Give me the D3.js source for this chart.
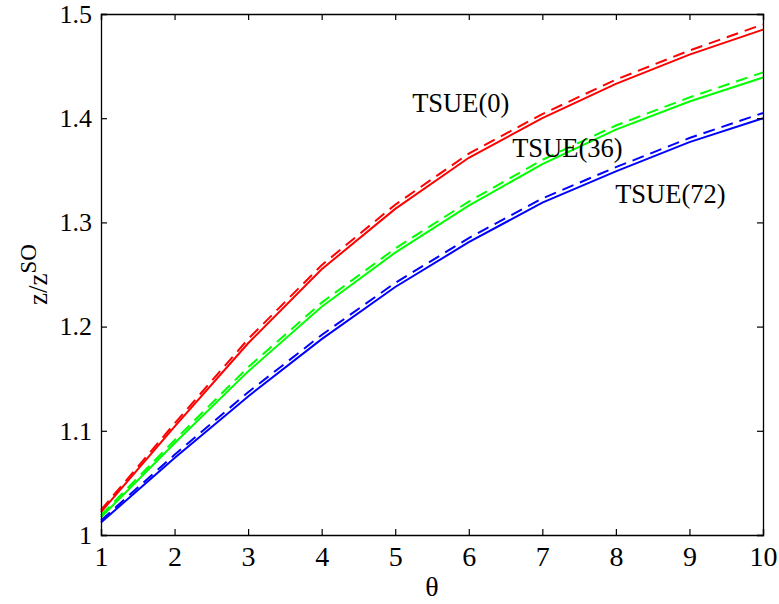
<!DOCTYPE html>
<html><head><meta charset="utf-8">
<script src="https://cdn.jsdelivr.net/npm/d3@7"></script>
<style>body{margin:0;background:#fff}svg{display:block}</style>
</head><body>
<svg id="chart" width="779" height="604"></svg>
<script>
const theta = [1,2,3,4,5,6,7,8,9,10];
const tsue0Solid  = [1.022,1.104,1.184,1.255,1.313,1.362,1.400,1.433,1.461,1.485];
const tsue0Dashed = [1.024,1.107,1.188,1.259,1.317,1.366,1.404,1.437,1.465,1.490];
const tsue36Solid  = [1.017,1.088,1.157,1.219,1.271,1.316,1.356,1.389,1.416,1.439];
const tsue36Dashed = [1.019,1.091,1.161,1.223,1.275,1.320,1.360,1.393,1.420,1.444];
const tsue72Solid  = [1.012,1.074,1.133,1.188,1.238,1.281,1.319,1.349,1.377,1.400];
const tsue72Dashed = [1.014,1.077,1.137,1.192,1.242,1.285,1.323,1.353,1.381,1.405];
const seriesLabels = ["TSUE(0)","TSUE(36)","TSUE(72)"];
const seriesColors = ["#ff0000","#00ff00","#0000ff"];
const xTicks = [1,2,3,4,5,6,7,8,9,10];
const yTicks = [1,1.1,1.2,1.3,1.4,1.5];
// label anchor positions in data units
const labelX = [5.23, 6.59, 7.99];
const labelY = [1.406, 1.363, 1.319];

const svg = d3.select("#chart");
const m = {left:101, top:14, right:16, bottom:69};
const W = 779 - m.left - m.right, H = 604 - m.top - m.bottom;
const g = svg.append("g").attr("transform",`translate(${m.left},${m.top})`);
const x = d3.scaleLinear().domain([1,10]).range([0,W]);
const y = d3.scaleLinear().domain([1,1.5]).range([H,0]);
const font = "'Liberation Serif','Times New Roman',serif";

const line = d3.line().x((d,i)=>x(theta[i])).y(d=>y(d));
const series = [
  [tsue0Solid, tsue0Dashed],
  [tsue36Solid, tsue36Dashed],
  [tsue72Solid, tsue72Dashed]
];
series.forEach((pair,k)=>{
  g.append("path").datum(pair[1]).attr("d",line).attr("fill","none")
    .attr("stroke",seriesColors[k]).attr("stroke-width",2).attr("stroke-dasharray","12,7");
  g.append("path").datum(pair[0]).attr("d",line).attr("fill","none")
    .attr("stroke",seriesColors[k]).attr("stroke-width",2);
});

const xb = g.append("g").attr("transform",`translate(0,${H})`)
  .call(d3.axisBottom(x).tickValues(xTicks).tickSize(-6).tickPadding(11).tickFormat(d3.format("d")));
const xt = g.append("g").call(d3.axisTop(x).tickValues(xTicks).tickSize(-6).tickFormat(""));
const yl = g.append("g")
  .call(d3.axisLeft(y).tickValues(yTicks).tickSize(-6).tickPadding(9).tickFormat(d=>String(+d.toFixed(1))));
const yr = g.append("g").attr("transform",`translate(${W},0)`)
  .call(d3.axisRight(y).tickValues(yTicks).tickSize(-6).tickFormat(""));
[xb,xt,yl,yr].forEach(a=>{
  a.select(".domain").attr("stroke","#000").attr("stroke-width",1.3);
  a.selectAll(".tick line").attr("stroke","#000").attr("stroke-width",1.2);
  a.selectAll("text").attr("fill","#000").style("font-family",font);
});
xb.selectAll("text").style("font-size","28px");
yl.selectAll("text").style("font-size","26px");

seriesLabels.forEach((t,k)=>{
  g.append("text").attr("x",x(labelX[k])).attr("y",y(labelY[k]))
    .style("font-family",font).style("font-size","26.5px").attr("fill","#000").text(t);
});

svg.append("text").attr("x",m.left+W/2).attr("y",596).attr("text-anchor","middle")
  .style("font-family",font).style("font-size","28px").text("θ");

const yt = svg.append("text").attr("transform",`translate(47,${m.top+H/2}) rotate(-90)`)
  .attr("text-anchor","middle").style("font-family",font).style("font-size","27px");
yt.append("tspan").text("z/z");
yt.append("tspan").attr("dy",-11).style("font-size","23px").text("SO");
</script>
</body></html>
